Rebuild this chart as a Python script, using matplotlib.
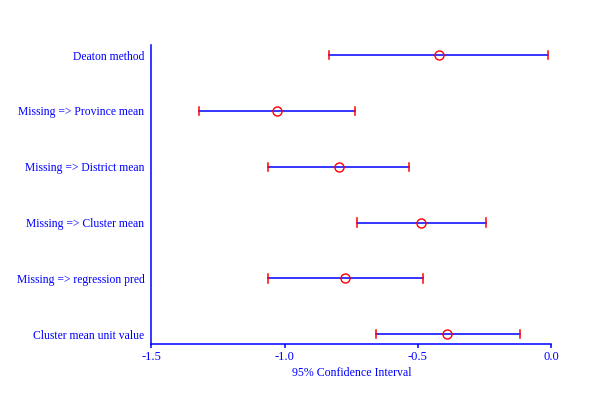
import matplotlib
matplotlib.use("Agg")
from matplotlib import pyplot as plt

labels = ['Deaton method', 'Missing => Province mean', 'Missing => District mean',
          'Missing => Cluster mean', 'Missing => regression pred', 'Cluster mean unit value']
estimate = [-0.421, -1.030, -0.797, -0.489, -0.774, -0.391]
lower = [-0.833, -1.320, -1.061, -0.728, -1.064, -0.659]
upper = [-0.011, -0.735, -0.533, -0.244, -0.480, -0.116]
xticks = [-1.5, -1.0, -0.5, 0.0]

plt.rcParams['font.family'] = ['Liberation Serif', 'DejaVu Serif']
blue = '#0000ff'
red = '#ff0000'

fig = plt.figure(figsize=(5.93, 3.96), dpi=100)
ax = fig.add_axes([0.2551, 0.1313, 0.6745, 0.755])

n = len(labels)
ypos = [n - 1 - i for i in range(n)]
for y, est, lo, hi in zip(ypos, estimate, lower, upper):
    ax.plot([lo, hi], [y, y], color=blue, lw=1.1, zorder=2)
    ax.plot([lo, lo], [y - 0.075, y + 0.075], color=red, lw=1.1, zorder=3)
    ax.plot([hi, hi], [y - 0.075, y + 0.075], color=red, lw=1.1, zorder=3)
    ax.plot(est, y, 'o', mfc='none', mec=red, mew=1.0, ms=6.5, zorder=4)

ax.set_xlim(-1.5, 0.0)
ax.set_ylim(-0.175, 5.18)
ax.set_xticks(xticks)
ax.set_xticklabels(['%.1f' % t for t in xticks])
ax.set_yticks(ypos)
ax.set_yticklabels(labels)

for s in ['top', 'right']:
    ax.spines[s].set_visible(False)
for s in ['left', 'bottom']:
    ax.spines[s].set_color(blue)
    ax.spines[s].set_linewidth(1.1)

ax.tick_params(axis='x', colors=blue, labelcolor=blue, length=3, width=1.1,
               direction='out', labelsize=9, pad=2)
ax.tick_params(axis='y', length=0, labelcolor=blue, labelsize=8.4, pad=5)
ax.set_xlabel('95% Confidence Interval', color=blue, fontsize=8.6, labelpad=3)

fig.savefig('out.png', dpi=100)
